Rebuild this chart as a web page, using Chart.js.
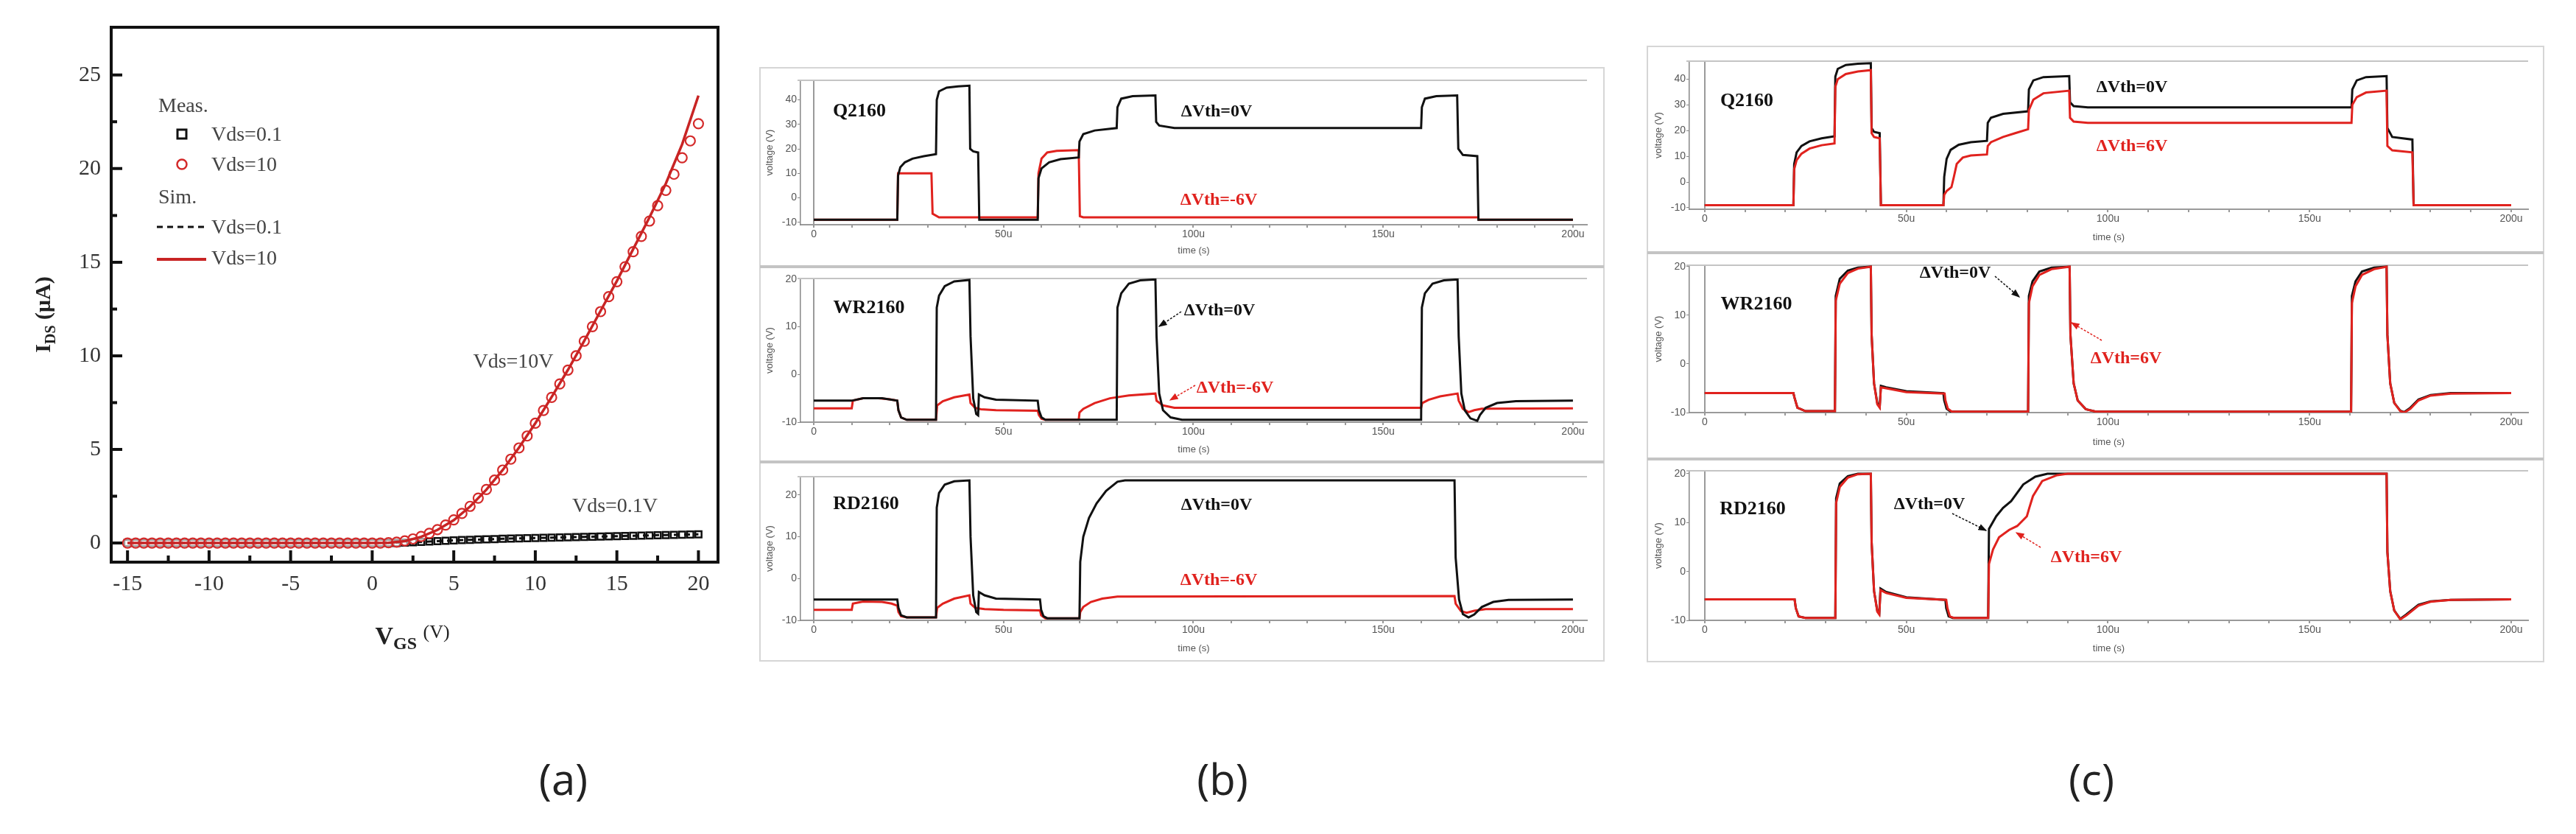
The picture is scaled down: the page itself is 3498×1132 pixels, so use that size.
<!DOCTYPE html>
<html>
<head>
<meta charset="utf-8">
<script src="https://cdn.jsdelivr.net/npm/chart.js@4.4.0/dist/chart.umd.min.js"></script>
<style>
  body { margin: 0; width: 3498px; height: 1132px; background: #fff; position: relative; overflow: hidden; font-family: 'Liberation Serif', serif; }
  canvas { position: absolute; }
  .t { position: absolute; white-space: nowrap; transform: translate(-50%, -50%); line-height: 1; }
  .l { position: absolute; white-space: nowrap; transform: translateY(-50%); line-height: 1; }
  .name { font-weight: bold; font-size: 26px; color: #111; }
  .dv { font-weight: bold; font-size: 24px; color: #111; }
  .red { color: #e0221e; }
  .leg { font-size: 28px; color: #444; }
  .panel { font-family: 'Open Sans', sans-serif; font-size: 58px; color: #222; }
  svg { position: absolute; left: 0; top: 0; }
</style>
</head>
<body>

<canvas id="iv" width="1000" height="830" style="left:0;top:0"></canvas>
<canvas id="bQ" width="1140" height="253" style="left:1035px;top:95px"></canvas>
<canvas id="bW" width="1140" height="252" style="left:1035px;top:366px"></canvas>
<canvas id="bR" width="1140" height="253" style="left:1035px;top:635px"></canvas>
<canvas id="cQ" width="1206" height="260" style="left:2242px;top:70px"></canvas>
<canvas id="cW" width="1206" height="260" style="left:2242px;top:348px"></canvas>
<canvas id="cR" width="1206" height="261" style="left:2242px;top:627px"></canvas>

<svg width="3498" height="1132">
  <defs>
    <marker id="ahk" markerWidth="8" markerHeight="8" refX="7" refY="4" orient="auto"><path d="M0,1 L8,4 L0,7 z" fill="#111"/></marker>
    <marker id="ahr" markerWidth="8" markerHeight="8" refX="7" refY="4" orient="auto"><path d="M0,1 L8,4 L0,7 z" fill="#e0221e"/></marker>
  </defs>
  <!-- screenshot frames of (b) and (c) -->
  <rect x="1032" y="92" width="1146" height="805" fill="none" stroke="#d6d6d6" stroke-width="2"/>
  <line x1="1032" y1="362" x2="2178" y2="362" stroke="#c4c4c4" stroke-width="4"/>
  <line x1="1032" y1="627" x2="2178" y2="627" stroke="#c4c4c4" stroke-width="4"/>
  <rect x="2237" y="63" width="1217" height="835" fill="none" stroke="#d6d6d6" stroke-width="2"/>
  <line x1="2237" y1="343" x2="3454" y2="343" stroke="#c4c4c4" stroke-width="4"/>
  <line x1="2237" y1="623" x2="3454" y2="623" stroke="#c4c4c4" stroke-width="4"/>
  <!-- pointer arrows -->
  <line x1="1604" y1="423" x2="1574" y2="443" stroke="#111" stroke-width="1.5" stroke-dasharray="3,2" marker-end="url(#ahk)"/>
  <line x1="1623" y1="523" x2="1589" y2="543" stroke="#e0221e" stroke-width="1.5" stroke-dasharray="3,2" marker-end="url(#ahr)"/>
  <line x1="2709" y1="375" x2="2742" y2="403" stroke="#111" stroke-width="1.5" stroke-dasharray="3,2" marker-end="url(#ahk)"/>
  <line x1="2854" y1="462" x2="2813" y2="438" stroke="#e0221e" stroke-width="1.5" stroke-dasharray="3,2" marker-end="url(#ahr)"/>
  <line x1="2651" y1="697" x2="2697" y2="720" stroke="#111" stroke-width="1.5" stroke-dasharray="3,2" marker-end="url(#ahk)"/>
  <line x1="2771" y1="743" x2="2738" y2="723" stroke="#e0221e" stroke-width="1.5" stroke-dasharray="3,2" marker-end="url(#ahr)"/>
  <!-- legend glyphs of (a) -->
  <rect x="241" y="176" width="12" height="12" fill="#fff" stroke="#111" stroke-width="3"/>
  <circle cx="247" cy="223" r="6.5" fill="#fff" stroke="#d42a2a" stroke-width="2.5"/>
  <line x1="213" y1="308" x2="277" y2="308" stroke="#111" stroke-width="3" stroke-dasharray="8,6"/>
  <line x1="213" y1="352" x2="280" y2="352" stroke="#c82424" stroke-width="4"/>
</svg>

<!-- panel (a) texts -->
<div class="t" style="left:60px;top:427px;transform:translate(-50%,-50%) rotate(-90deg);font-weight:bold;font-size:30px;color:#222">I<sub style="font-size:20px">DS</sub> (μA)</div>
<div class="t" style="left:560px;top:865px;font-weight:bold;font-size:34px;color:#222">V<sub style="font-size:24px">GS</sub> <span style="font-size:26px;font-weight:normal;vertical-align:8px">(V)</span></div>
<div class="l leg" style="left:215px;top:143px">Meas.</div>
<div class="l leg" style="left:287px;top:182px">Vds=0.1</div>
<div class="l leg" style="left:287px;top:223px">Vds=10</div>
<div class="l leg" style="left:215px;top:267px">Sim.</div>
<div class="l leg" style="left:287px;top:308px">Vds=0.1</div>
<div class="l leg" style="left:287px;top:350px">Vds=10</div>
<div class="t leg" style="left:697px;top:490px">Vds=10V</div>
<div class="t leg" style="left:835px;top:686px">Vds=0.1V</div>

<!-- panel (b) texts -->
<div class="t name" style="left:1167px;top:150px">Q2160</div>
<div class="t dv" style="left:1652px;top:150px">ΔVth=0V</div>
<div class="t dv red" style="left:1655px;top:270px">ΔVth=-6V</div>
<div class="t name" style="left:1180px;top:417px">WR2160</div>
<div class="t dv" style="left:1656px;top:420px">ΔVth=0V</div>
<div class="t dv red" style="left:1677px;top:525px">ΔVth=-6V</div>
<div class="t name" style="left:1176px;top:683px">RD2160</div>
<div class="t dv" style="left:1652px;top:684px">ΔVth=0V</div>
<div class="t dv red" style="left:1655px;top:786px">ΔVth=-6V</div>

<!-- panel (c) texts -->
<div class="t name" style="left:2372px;top:136px">Q2160</div>
<div class="t dv" style="left:2895px;top:117px">ΔVth=0V</div>
<div class="t dv red" style="left:2895px;top:197px">ΔVth=6V</div>
<div class="t name" style="left:2385px;top:412px">WR2160</div>
<div class="t dv" style="left:2655px;top:369px">ΔVth=0V</div>
<div class="t dv red" style="left:2887px;top:485px">ΔVth=6V</div>
<div class="t name" style="left:2380px;top:690px">RD2160</div>
<div class="t dv" style="left:2620px;top:683px">ΔVth=0V</div>
<div class="t dv red" style="left:2833px;top:755px">ΔVth=6V</div>

<div class="t panel" style="left:765px;top:1057px">(a)</div>
<div class="t panel" style="left:1660px;top:1057px">(b)</div>
<div class="t panel" style="left:2840px;top:1057px">(c)</div>

<script>
// ---------- (a) transfer curves ----------
const vgsMeas = [-15,-14.5,-14,-13.5,-13,-12.5,-12,-11.5,-11,-10.5,-10,-9.5,-9,-8.5,-8,-7.5,-7,-6.5,-6,-5.5,-5,-4.5,-4,-3.5,-3,-2.5,-2,-1.5,-1,-0.5,
  0,0.5,1,1.5,2,2.5,3,3.5,4,4.5,5,5.5,6,6.5,7,7.5,8,8.5,9,9.5,10,10.5,11,11.5,12,12.5,13,13.5,14,14.5,15,15.5,16,16.5,17,17.5,18,18.5,19,19.5,20];
const idsMeas10 = [0,0,0,0,0,0,0,0,0,0,0,0,0,0,0,0,0,0,0,0,0,0,0,0,0,0,0,0,0,0,
  0,0,0.02,0.05,0.12,0.22,0.35,0.52,0.72,0.96,1.24,1.58,1.96,2.4,2.86,3.36,3.9,4.48,5.08,5.72,6.4,7.08,7.78,8.5,9.24,10.0,10.78,11.56,12.36,13.16,13.96,14.76,15.56,16.38,17.2,18.02,18.84,19.7,20.58,21.48,22.4];
const idsMeas01 = [0,0,0,0,0,0,0,0,0,0,0,0,0,0,0,0,0,0,0,0,0,0,0,0,0,0,0,0,0,0,
  0,0,0,0,0.02,0.04,0.06,0.08,0.1,0.12,0.14,0.16,0.17,0.19,0.2,0.21,0.23,0.24,0.25,0.26,0.27,0.28,0.29,0.3,0.31,0.32,0.33,0.34,0.35,0.36,0.37,0.38,0.39,0.4,0.41,0.42,0.43,0.44,0.45,0.46,0.47];
const vgsSim = [-15,-14,-13,-12,-11,-10,-9,-8,-7,-6,-5,-4,-3,-2,-1,0,1,2,3,4,5,6,7,8,9,10,11,12,13,14,15,16,17,18,19,20];
const idsSim10 = [0,0,0,0,0,0,0,0,0,0,0,0,0,0,0,0,0.01,0.1,0.33,0.7,1.22,1.95,2.85,3.9,5.1,6.4,7.8,9.25,10.8,12.4,14.0,15.7,17.4,19.2,21.3,23.9];
const idsSim01 = [0,0,0,0,0,0,0,0,0,0,0,0,0,0,0,0,0,0.02,0.06,0.1,0.14,0.17,0.2,0.23,0.25,0.27,0.29,0.31,0.33,0.35,0.37,0.39,0.41,0.43,0.45,0.47];
const vgsTicks = [-15,-10,-5,0,5,10,15,20];
const vgsMinor = [-12.5,-7.5,-2.5,2.5,7.5,12.5,17.5];
const idsTicks = [0,5,10,15,20,25];
const idsMinor = [2.5,7.5,12.5,17.5,22.5];

// ---------- (b)/(c) transient waveforms: [time (us), voltage (V)] ----------
const timeTicks = [0,10,20,30,40,50,60,70,80,90,100,110,120,130,140,150,160,170,180,190,200];
const timeLabelVals = [0,50,100,150,200];
const timeLabelText = ['0','50u','100u','150u','200u'];
const qTicks = [-10,0,10,20,30,40];
const wrTicks = [-10,0,10,20];

// (b) dVth = 0 / -6 V
const bQ0 = [[0,-9],[22,-9],[22.2,9],[22.8,12.5],[24,14.5],[26,16],[29,17],[32.2,17.8],[32.4,40],[33,43.5],[35,45],[38,45.5],[41,45.8],[41.2,20],[42,19],[43.3,18.5],[43.6,-9],[59,-9],[59.2,8],[60,12],[62,14.5],[65,15.8],[69.8,16.5],[70,23],[71,26],[74,27.5],[79.8,28.5],[80,37],[81,40.5],[84,41.5],[90,41.8],[90.2,31],[91,29.5],[95,28.5],[160,28.5],[160.2,37],[161,40.5],[164,41.5],[169.5,41.8],[169.8,20],[171,17.5],[174.8,17],[175.1,-9],[200,-9]];
const bQ6 = [[0,-9],[22,-9],[22.2,10],[31,10],[31.3,-6.5],[33,-8],[59,-8],[59.2,10],[60,16],[61.5,18.5],[64,19.2],[69.8,19.5],[70.1,-7.5],[71,-8],[175,-8],[175.2,-9],[200,-9]];
const bW0 = [[0,-5.5],[10,-5.5],[13,-5],[18,-5],[22,-5.5],[22.3,-7.5],[23,-9],[24.5,-9.5],[32.2,-9.5],[32.4,14],[33,16.5],[34.5,18.5],[37,19.5],[41,19.8],[41.3,8],[42,-5],[42.8,-8.3],[43.3,-8.6],[43.5,-4.2],[45,-4.8],[48,-5.3],[59,-5.5],[59.3,-7.5],[60,-9],[61,-9.5],[79.8,-9.5],[80,14],[81,17],[83,19],[86,19.7],[90,19.9],[90.3,8],[91,-4],[92,-7.5],[94,-9],[97,-9.5],[160,-9.5],[160.2,14],[161,17],[163,19],[166,19.7],[169.6,19.9],[169.9,8],[170.6,-4],[171.5,-7.5],[173,-9.2],[174.8,-9.7],[175.5,-8.5],[177,-7],[180,-6],[185,-5.6],[200,-5.5]];
const bW6 = [[0,-7.1],[10,-7.1],[10.3,-5.5],[13,-5],[17,-5],[20,-5.2],[22,-5.5],[22.3,-7.5],[23,-9],[24.5,-9.5],[32.2,-9.5],[32.5,-6.5],[34,-5.6],[37,-4.8],[41,-4.2],[41.3,-6],[42.5,-7],[44,-7.3],[48,-7.5],[59,-7.6],[59.3,-8.5],[60,-9.3],[61,-9.5],[69.8,-9.5],[70,-8],[71,-7.2],[74,-6],[78,-5],[83,-4.4],[90,-4],[90.3,-5.5],[92,-6.5],[95,-7],[160,-7],[160.3,-6],[162,-5.3],[165,-4.6],[169.6,-4],[169.9,-5.5],[171,-7.2],[172.5,-7.9],[174,-7.5],[176,-7.2],[200,-7.1]];
const bR0 = [[0,-5],[22,-5],[22.3,-7],[23,-8.8],[24.5,-9.3],[32.2,-9.3],[32.4,17],[33,20.5],[34.5,22.5],[37,23.3],[41,23.5],[41.3,10],[42,-4],[42.8,-8],[43.3,-8.4],[43.5,-3.2],[45,-4],[48,-4.8],[59.6,-5],[59.9,-7.5],[60.5,-9],[61.5,-9.5],[70,-9.5],[70.2,4],[71,10],[72.5,14.5],[74.5,18],[77,21],[80,23.2],[82,23.5],[168.8,23.5],[169.1,5],[170,-5],[171,-8.5],[172.5,-9.3],[174,-8.6],[176,-6.8],[179,-5.6],[183,-5.1],[200,-5]];
const bR6 = [[0,-7.5],[10,-7.5],[10.3,-6],[13,-5.5],[18,-5.6],[20.5,-6],[22,-6.5],[22.3,-8],[23,-9],[24.5,-9.3],[32.2,-9.3],[32.5,-7],[34,-6],[37,-4.8],[41,-4],[41.3,-6],[42.5,-7],[45,-7.3],[50,-7.5],[59.6,-7.6],[59.9,-8.8],[61,-9.5],[70,-9.5],[70.2,-8],[71,-6.8],[73,-5.6],[76,-4.8],[80,-4.3],[168.8,-4.2],[169.1,-6],[170.5,-7.8],[172,-8.2],[174,-7.7],[177,-7.3],[200,-7.3]];

// (c) dVth = 0 / 6 V
const cQ0 = [[0,-9],[22,-9],[22.2,7],[22.8,11.5],[24,14],[26,15.8],[29,17],[32.2,17.8],[32.4,41],[33,44],[35,45.5],[38,46],[41.2,46.2],[41.4,21],[42,19.5],[43.4,19],[43.7,-9],[59.2,-9],[59.4,2],[60,9],[61,12.5],[63,14.5],[66,15.5],[70,16],[70.2,23],[71,25],[74,26.5],[80.2,27.5],[80.4,36],[81.5,39.5],[84,40.8],[90.4,41.2],[90.6,31],[91.5,29.5],[95,29],[160.4,29],[160.6,36],[161.7,39.5],[164,40.8],[169.1,41.2],[169.3,21],[170.5,17.5],[175.5,16.5],[175.8,-9],[200,-9]];
const cQ6 = [[0,-9],[22,-9],[22.2,5],[22.8,8.5],[24,11],[26,13],[29,14.3],[32.2,15],[32.4,37],[33,40],[35,42],[38,43],[41.2,43.5],[41.4,19],[42,17.5],[43.4,17],[43.7,-9],[59.2,-9],[59.4,-5],[60,-3.5],[61.2,-2],[61.8,2],[62.5,7],[64,9.5],[66,10.3],[70,10.7],[70.2,14],[71,15.5],[74,17.5],[77,19],[80.2,20.5],[80.4,28],[81.5,32],[84,34.5],[90.4,35.5],[90.6,25],[91.5,23.5],[95,23],[160.4,23],[160.6,30],[161.7,33],[164,34.8],[169.1,35.5],[169.3,14],[170.5,12.3],[175.5,11.5],[175.8,-9],[200,-9]];
const cW0 = [[0,-6],[22,-6],[22.3,-7],[23,-9],[25,-9.7],[32.3,-9.7],[32.5,14],[33.5,17.5],[35.5,19.2],[38,19.8],[41.2,20],[41.4,6],[42,-4],[42.8,-8],[43.4,-8.8],[43.7,-4.5],[45,-4.8],[50,-5.6],[59.2,-6],[59.4,-7.5],[60,-9.2],[61,-9.8],[80.2,-9.8],[80.4,14],[81.3,17],[83,19],[86,19.8],[90.5,20],[90.7,6],[91.5,-4],[92.5,-7.5],[94.5,-9.3],[97,-9.8],[160.3,-9.8],[160.5,14],[161.4,17],[163,19],[166,19.8],[169.1,20],[169.3,6],[170,-4],[171,-8],[172.5,-9.6],[173.5,-9.9],[175,-9],[177,-7.3],[180,-6.4],[185,-6],[200,-6]];
const cW6 = [[0,-6],[22,-6],[22.3,-7],[23,-9],[25,-9.7],[32.3,-9.7],[32.5,13],[33.5,16.5],[35.5,18.7],[38,19.6],[41.2,20],[41.4,6],[42,-4],[42.8,-8.3],[43.4,-9],[43.7,-4.8],[45,-5],[50,-5.8],[59.5,-6.1],[59.7,-7.5],[60.3,-9.2],[61.3,-9.8],[80.2,-9.8],[80.4,12.5],[81.3,16],[83,18.3],[86,19.5],[90.5,20],[90.7,6],[91.5,-4],[92.5,-7.5],[94.5,-9.3],[97,-9.8],[160.3,-9.8],[160.5,12.5],[161.4,16],[163,18.3],[166,19.5],[169.1,20],[169.3,6],[170,-4],[171,-8],[172.5,-9.7],[173.5,-10],[175,-9.2],[177,-7.5],[180,-6.5],[185,-6.1],[200,-6]];
const cR0 = [[0,-5.7],[22.3,-5.7],[22.6,-7.5],[23.3,-9.2],[25,-9.5],[32.4,-9.5],[32.6,15],[33.5,18],[35.5,19.5],[38,20],[41.2,20],[41.4,6],[42,-4],[42.8,-8],[43.3,-8.6],[43.6,-3.5],[45,-4.2],[50,-5.3],[59.7,-5.8],[59.9,-7.5],[60.5,-9.2],[61.5,-9.5],[70.3,-9.5],[70.5,8.7],[72.3,11.3],[74,13],[76,14.4],[79,17.8],[82,19.4],[85,20],[169.1,20],[169.3,4],[170,-4],[171,-8],[172.5,-9.7],[174,-8.8],[177,-6.8],[180,-6.1],[185,-5.8],[200,-5.7]];
const cR6 = [[0,-5.7],[22.3,-5.7],[22.6,-7.5],[23.3,-9.2],[25,-9.5],[32.4,-9.5],[32.6,14],[33.5,17.3],[35.5,19.2],[38,19.9],[41.2,20],[41.4,6],[42,-4],[42.8,-8.2],[43.3,-8.8],[43.6,-3.8],[45,-4.4],[50,-5.4],[59.9,-5.8],[60.2,-7.5],[60.8,-9.2],[61.8,-9.5],[70.3,-9.5],[70.5,1.5],[71.5,4.5],[73,7],[75.5,8.5],[77.5,9.3],[79.9,11.3],[80.5,13],[81.4,15.4],[83.7,18.5],[87.4,19.7],[90,20],[169.1,20],[169.3,4],[170,-4],[171,-8],[172.5,-9.8],[174,-9],[177,-7],[180,-6.2],[185,-5.8],[200,-5.7]];

// ---------- layout (canvas boxes: y-axis width, x-axis height, top/right padding) ----------
const layoutB = { yAxisW: 52, padRight: 20, xMin: -3.5, xMax: 203.7 };
const layoutC = { yAxisW: 52, padRight: 15, xMin: -3.8, xMax: 204.2 };

const RED = '#e0221e';
const BLACK = '#111';
const tickFont = { family: "'Liberation Sans Narrow', 'Liberation Sans', sans-serif", size: 14 };

const topLine = {
    id: 'topLine',
    beforeDatasetsDraw(chart) {
        const { ctx, chartArea: a } = chart;
        ctx.save();
        ctx.strokeStyle = '#c4c4c4';
        ctx.lineWidth = 2;
        ctx.beginPath();
        ctx.moveTo(a.left - 4, a.top);
        ctx.lineTo(a.right, a.top);
        ctx.stroke();
        ctx.restore();
    }
};

function pts(list) {
    return list.map(p => ({ x: p[0], y: p[1] }));
}

function waveChart(id, lay, padTop, xAxisH, black, red, yMin, yMax, yTicks, redOnTop) {
    const blackSet = { data: pts(black), borderColor: BLACK, borderWidth: 3, showLine: true, pointRadius: 0, tension: 0 };
    const redSet = { data: pts(red), borderColor: RED, borderWidth: 3, showLine: true, pointRadius: 0, tension: 0 };
    // first dataset in the list is painted last (on top)
    const sets = redOnTop ? [redSet, blackSet] : [blackSet, redSet];
    return new Chart(document.getElementById(id), {
        type: 'scatter',
        data: { datasets: sets },
        options: {
            responsive: false, animation: false, events: [],
            layout: { padding: { top: padTop, right: lay.padRight, left: 0, bottom: 0 } },
            plugins: { legend: { display: false }, tooltip: { enabled: false } },
            scales: {
                x: {
                    type: 'linear', min: lay.xMin, max: lay.xMax,
                    afterBuildTicks: s => { s.ticks = timeTicks.map(v => ({ value: v })); },
                    afterFit: s => { s.height = xAxisH; },
                    grid: {
                        color: c => (c.tick && c.tick.value === 0 ? '#9a9a9a' : 'rgba(0,0,0,0)'),
                        tickColor: '#999', tickLength: 4, lineWidth: 2
                    },
                    border: { color: '#9a9a9a', width: 2 },
                    ticks: {
                        font: tickFont, color: '#555', padding: 1, autoSkip: false, maxRotation: 0,
                        callback: v => { const i = timeLabelVals.indexOf(v); return i >= 0 ? timeLabelText[i] : ''; }
                    },
                    title: { display: true, text: 'time (s)', font: { family: tickFont.family, size: 13 }, color: '#555', padding: { top: 0, bottom: 0 } }
                },
                y: {
                    min: yMin, max: yMax,
                    afterBuildTicks: s => { s.ticks = yTicks.map(v => ({ value: v })); },
                    afterFit: s => { s.width = lay.yAxisW; },
                    grid: { drawOnChartArea: false, tickColor: '#888', tickLength: 4 },
                    border: { color: '#888', width: 1.5, dash: [2, 3] },
                    ticks: { font: tickFont, color: '#555', padding: 1 },
                    title: { display: true, text: 'voltage (V)', font: { family: tickFont.family, size: 13 }, color: '#555', padding: { top: 3, bottom: 0 } }
                }
            }
        },
        plugins: [topLine]
    });
}

// (b)
waveChart('bQ', layoutB, 14, 43, bQ0, bQ6, -11, 48, qTicks, false);
waveChart('bW', layoutB, 12, 45, bW0, bW6, -10, 20.1, wrTicks, false);
waveChart('bR', layoutB, 12, 46, bR0, bR6, -10, 24.4, wrTicks, false);
// (c)
waveChart('cQ', layoutC, 13, 46, cQ0, cQ6, -10.6, 47, qTicks, true);
waveChart('cW', layoutC, 12, 48, cW0, cW6, -10, 20.3, wrTicks, true);
waveChart('cR', layoutC, 12, 46, cR0, cR6, -10, 20.6, wrTicks, true);

// ---------- (a) chart ----------
const ivFrame = {
    id: 'ivFrame',
    afterDraw(chart) {
        const { ctx, chartArea: a, scales: { x, y } } = chart;
        ctx.save();
        ctx.strokeStyle = '#111';
        ctx.lineWidth = 4;
        ctx.strokeRect(a.left, a.top, a.right - a.left, a.bottom - a.top);
        ctx.lineWidth = 4;
        ctx.beginPath();
        vgsTicks.forEach(v => { const px = x.getPixelForValue(v); ctx.moveTo(px, a.bottom); ctx.lineTo(px, a.bottom - 16); });
        vgsMinor.forEach(v => { const px = x.getPixelForValue(v); ctx.moveTo(px, a.bottom); ctx.lineTo(px, a.bottom - 9); });
        idsTicks.forEach(v => { const py = y.getPixelForValue(v); ctx.moveTo(a.left, py); ctx.lineTo(a.left + 15, py); });
        idsMinor.forEach(v => { const py = y.getPixelForValue(v); ctx.moveTo(a.left, py); ctx.lineTo(a.left + 8, py); });
        ctx.stroke();
        ctx.restore();
    }
};

const ivFont = { family: "'Liberation Serif', serif", size: 30 };

new Chart(document.getElementById('iv'), {
    type: 'scatter',
    data: {
        datasets: [
            { data: vgsSim.map((v, i) => ({ x: v, y: idsSim10[i] })), showLine: true, borderColor: '#c82424', borderWidth: 3.5, pointRadius: 0 },
            { data: vgsMeas.map((v, i) => ({ x: v, y: idsMeas10[i] })), pointStyle: 'circle', pointRadius: 6.5, pointBorderWidth: 2.2, pointBorderColor: '#d42a2a', pointBackgroundColor: 'rgba(255,255,255,0.6)' },
            { data: vgsSim.map((v, i) => ({ x: v, y: idsSim01[i] })), showLine: true, borderColor: '#111', borderWidth: 3, borderDash: [8, 6], pointRadius: 0 },
            { data: vgsMeas.map((v, i) => ({ x: v, y: idsMeas01[i] })), pointStyle: 'rect', pointRadius: 6, pointBorderWidth: 2.5, pointBorderColor: '#111', pointBackgroundColor: '#fff' }
        ]
    },
    options: {
        responsive: false, animation: false, events: [],
        layout: { padding: { top: 37, right: 25, left: 0, bottom: 0 } },
        plugins: { legend: { display: false }, tooltip: { enabled: false } },
        scales: {
            x: {
                type: 'linear', min: -16, max: 21.2,
                afterBuildTicks: s => { s.ticks = vgsTicks.map(v => ({ value: v })); },
                afterFit: s => { s.height = 67; },
                grid: { display: false, drawTicks: false },
                border: { display: false },
                ticks: { font: ivFont, color: '#333', padding: 12, autoSkip: false, maxRotation: 0 }
            },
            y: {
                min: -1.02, max: 27.55,
                afterBuildTicks: s => { s.ticks = idsTicks.map(v => ({ value: v })); },
                afterFit: s => { s.width = 151; },
                grid: { display: false, drawTicks: false },
                border: { display: false },
                ticks: { font: ivFont, color: '#333', padding: 14 }
            }
        }
    },
    plugins: [ivFrame]
});
</script>
</body>
</html>
